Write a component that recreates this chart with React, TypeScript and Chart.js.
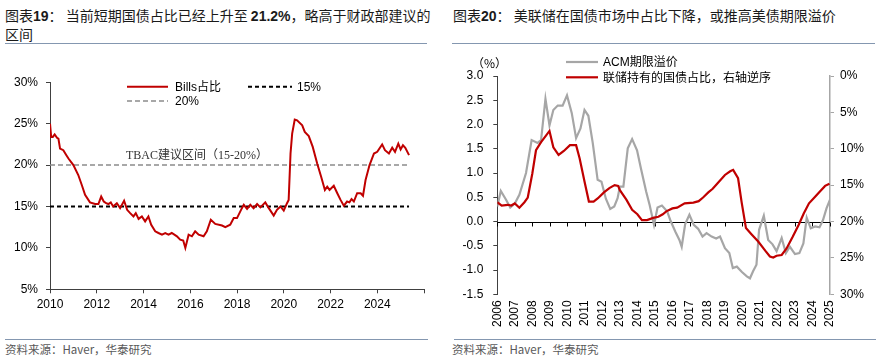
import React, { useEffect, useRef } from "react";
import { Chart, registerables } from "chart.js";
Chart.register(...registerables);

// ---------- Left chart data: T-bill share of marketable Treasuries (%) ----------
const billsYears = [
  2010.0, 2010.05, 2010.12, 2010.2, 2010.3, 2010.36, 2010.43, 2010.57, 2010.7, 2010.79,
  2011.0, 2011.21, 2011.36, 2011.5, 2011.71, 2011.93, 2012.07, 2012.19, 2012.3, 2012.4,
  2012.5, 2012.6, 2012.7, 2012.86, 2013.0, 2013.17, 2013.3, 2013.43, 2013.57, 2013.67,
  2013.79, 2013.93, 2014.07, 2014.21, 2014.33, 2014.5, 2014.64, 2014.79, 2014.93, 2015.07,
  2015.21, 2015.43, 2015.57, 2015.7, 2015.79, 2015.93, 2016.07, 2016.21, 2016.36, 2016.57,
  2016.71, 2016.88, 2017.07, 2017.36, 2017.5, 2017.71, 2017.86, 2018.0, 2018.21, 2018.29,
  2018.43, 2018.57, 2018.71, 2018.86, 2019.0, 2019.21, 2019.36, 2019.57, 2019.71, 2019.86,
  2020.0, 2020.14, 2020.21, 2020.29, 2020.36, 2020.47, 2020.57, 2020.79, 2020.9, 2021.07,
  2021.24, 2021.43, 2021.6, 2021.76, 2021.86, 2021.96, 2022.14, 2022.29, 2022.43, 2022.57,
  2022.71, 2022.81, 2022.9, 2023.0, 2023.14, 2023.29, 2023.39, 2023.5, 2023.67, 2023.86,
  2024.0, 2024.21, 2024.33, 2024.5, 2024.64, 2024.76, 2024.9, 2025.0, 2025.1, 2025.2, 2025.36,
];
const billsShare = [
  25.0, 23.4, 23.4, 23.7, 23.3, 23.2, 22.0, 21.8, 21.2, 20.8,
  20.0, 18.8, 17.6, 16.4, 15.5, 15.3, 15.3, 16.2, 15.6, 15.4,
  15.3, 15.5, 15.0, 15.4, 14.8, 15.7, 14.6, 14.2, 13.8, 14.2,
  13.5, 13.8, 13.2, 13.8, 12.8, 12.0, 11.8, 11.6, 11.8, 11.6,
  11.8, 11.4, 11.0, 10.9, 10.0, 11.6, 11.4, 12.0, 11.6, 11.4,
  12.0, 13.4, 12.9, 12.7, 12.5, 12.8, 13.6, 13.6, 14.8, 15.2,
  14.7, 15.2, 14.8, 15.3, 14.9, 15.5, 14.8, 13.9, 14.6, 15.0,
  14.5, 15.4, 15.8, 21.4, 23.8, 25.5, 25.4, 24.8, 24.0, 23.5,
  22.2, 20.2, 18.6, 17.0, 17.4, 17.0, 17.5, 16.6, 15.8, 15.1,
  15.6, 15.5, 15.9, 15.6, 16.6, 16.6, 16.3, 18.2, 20.0, 21.4,
  21.6, 22.5, 21.8, 21.4, 22.1, 21.6, 22.6, 21.9, 22.4, 22.1, 21.2,
];
const refLineYears = [2010, 2025.36];
const ref20 = [20, 20];
const ref15 = [15, 15];

// ---------- Right chart data ----------
const acmYears = [
  2006.0, 2006.2, 2006.5, 2006.74, 2007.0, 2007.26, 2007.64, 2007.96, 2008.3, 2008.5,
  2008.75, 2008.98, 2009.2, 2009.45, 2009.73, 2009.98, 2010.25, 2010.5, 2010.75, 2010.98,
  2011.2, 2011.45, 2011.73, 2011.95, 2012.2, 2012.45, 2012.68, 2012.87, 2013.0, 2013.2,
  2013.45, 2013.7, 2013.98, 2014.2, 2014.5, 2014.7, 2014.95, 2015.15, 2015.4, 2015.7,
  2015.9, 2016.17, 2016.4, 2016.53, 2016.73, 2016.97, 2017.22, 2017.47, 2017.72, 2017.95,
  2018.24, 2018.5, 2018.72, 2019.0, 2019.25, 2019.45, 2019.68, 2019.97, 2020.25, 2020.43,
  2020.6, 2020.8, 2020.95, 2021.22, 2021.47, 2021.72, 2021.95, 2022.24, 2022.48, 2022.71,
  2023.0, 2023.25, 2023.48, 2023.67, 2023.9, 2024.15, 2024.4, 2024.6, 2024.8, 2025.0,
];
const acmPremium = [
  0.31, 0.63, 0.45, 0.29, 0.37, 0.55, 1.0, 1.68, 1.62, 1.68,
  2.53, 1.98, 2.3, 2.39, 2.39, 2.6, 2.24, 1.72, 1.92, 2.3,
  2.18, 1.62, 0.86, 0.82, 0.47, 0.26, 0.31, 0.48, 0.72, 0.72,
  1.51, 1.7, 1.47, 1.1, 0.62, 0.34, -0.07, 0.29, 0.33, 0.21,
  0.01, -0.21, -0.38, -0.52, -0.05, 0.14, -0.07, -0.15, -0.31, -0.24,
  -0.31, -0.35, -0.31, -0.55, -0.65, -0.96, -0.93, -1.04, -1.13, -1.17,
  -1.03, -0.89, -0.17, 0.12, -0.38, -0.47, -0.61, -0.34, -0.65, -0.52,
  -0.67, -0.65, -0.45, 0.08, -0.14, -0.1, -0.12, 0.03, 0.27, 0.45,
];
const fedYears = [
  2006.0, 2006.25, 2006.6, 2006.8, 2007.0, 2007.26, 2007.55, 2007.74, 2008.0, 2008.21,
  2008.5, 2008.98, 2009.2, 2009.5, 2009.8, 2010.15, 2010.5, 2010.7, 2010.98, 2011.23,
  2011.5, 2011.75, 2012.09, 2012.4, 2012.7, 2012.9, 2013.0, 2013.37, 2013.7, 2014.0,
  2014.26, 2014.55, 2014.9, 2015.2, 2015.45, 2015.65, 2016.0, 2016.27, 2016.7, 2017.2,
  2017.5, 2017.75, 2018.05, 2018.3, 2018.67, 2019.0, 2019.3, 2019.47, 2019.75, 2019.95,
  2020.2, 2020.5, 2020.9, 2021.3, 2021.57, 2021.76, 2021.95, 2022.24, 2022.52, 2022.87,
  2023.2, 2023.5, 2023.8, 2024.15, 2024.45, 2024.72, 2024.97,
];
const fedShare = [
  17.35, 17.8, 17.7, 17.8, 17.5, 18.1, 17.35, 16.7, 13.4, 10.2,
  9.1, 7.55, 9.8, 10.85, 10.3, 9.5, 9.5, 11.3, 14.5, 17.26,
  17.26, 16.8, 16.0, 15.4, 15.0, 15.1, 15.7, 17.0, 18.4, 19.0,
  19.8, 19.8, 19.5, 19.35, 19.0, 18.6, 18.2, 18.1, 17.5, 17.4,
  17.2, 16.7, 16.0, 15.5, 14.5, 13.6, 13.1, 12.9, 14.05, 17.3,
  20.9, 21.7, 22.75, 24.0, 24.8, 24.95, 24.7, 24.6, 23.7, 22.1,
  20.5, 18.9, 17.5, 16.6, 15.8, 15.1, 14.8,
];

const RED = "#C00000";
const GRAY = "#A6A6A6";
const SANS = '"Liberation Sans", Arial, "Noto Sans CJK SC", sans-serif';
const CJK = '"Noto Sans CJK SC", "Liberation Sans", sans-serif';
const SERIF = '"Liberation Serif", "Noto Sans CJK SC", serif';

const pts = (xs: number[], ys: number[]) => xs.map((x, i) => ({ x, y: ys[i] }));

const zeroLinePlugin = {
  id: "zeroLine",
  beforeDatasetsDraw(chart: any) {
    const { ctx, chartArea, scales } = chart;
    const y0 = Math.round(scales.y.getPixelForValue(0)) + 0.5;
    ctx.save();
    ctx.strokeStyle = "#000";
    ctx.lineWidth = 1;
    ctx.beginPath();
    ctx.moveTo(chartArea.left, y0);
    ctx.lineTo(chartArea.right, y0);
    for (let yr = 2006; yr <= 2025; yr++) {
      const x = Math.round(scales.x.getPixelForValue(yr)) + 0.5;
      ctx.moveTo(x, y0);
      ctx.lineTo(x, y0 + 4);
    }
    ctx.stroke();
    ctx.restore();
  },
};

function LeftChart() {
  const ref = useRef<HTMLCanvasElement>(null);
  useEffect(() => {
    const chart = new Chart(ref.current!, {
      type: "line",
      data: {
        datasets: [
          { label: "Bills占比", data: pts(billsYears, billsShare), borderColor: RED, borderWidth: 2, pointRadius: 0, tension: 0 },
          { label: "20%", data: pts(refLineYears, ref20), borderColor: "#8C8C8C", borderWidth: 1.5, borderDash: [5, 3], pointRadius: 0 },
          { label: "15%", data: pts(refLineYears, ref15), borderColor: "#000", borderWidth: 2, borderDash: [4, 3], pointRadius: 0 },
        ],
      },
      options: {
        animation: false,
        responsive: false,
        layout: { padding: { top: 32.3, right: 16, left: 0, bottom: 0 } },
        plugins: { legend: { display: false }, tooltip: { enabled: false } },
        scales: {
          x: {
            type: "linear",
            min: 2010,
            max: 2026,
            afterFit: (s: any) => { s.height = 30.7; },
            ticks: { stepSize: 2, autoSkip: false, maxRotation: 0, padding: 4, color: "#000", font: { family: SANS, size: 12 },
              callback: (v: any) => (v === 2026 ? "" : String(v)) },
            grid: { display: true, drawOnChartArea: false, drawTicks: true, tickLength: 4, color: "#404040" },
            border: { color: "#404040", width: 1 },
          },
          y: {
            min: 5,
            max: 30,
            afterFit: (s: any) => { s.width = 50; },
            ticks: { stepSize: 5, padding: 8, color: "#000", font: { family: SANS, size: 12 }, callback: (v: any) => v + "%" },
            grid: { display: true, drawOnChartArea: false, drawTicks: true, tickLength: 4, color: "#404040" },
            border: { color: "#404040", width: 1 },
          },
        },
      } as any,
    });
    return () => chart.destroy();
  }, []);
  return <canvas ref={ref} width={440} height={270} style={{ position: "absolute", left: 0, top: 50, width: 440, height: 270 }} />;
}

function RightChart() {
  const ref = useRef<HTMLCanvasElement>(null);
  useEffect(() => {
    const chart = new Chart(ref.current!, {
      type: "line",
      data: {
        datasets: [
          { label: "联储持有的国债占比，右轴逆序", data: pts(fedYears, fedShare), yAxisID: "y1", borderColor: RED, borderWidth: 2.2, pointRadius: 0, tension: 0 },
          { label: "ACM期限溢价", data: pts(acmYears, acmPremium), yAxisID: "y", borderColor: GRAY, borderWidth: 2.2, pointRadius: 0, tension: 0 },
        ],
      },
      options: {
        animation: false,
        responsive: false,
        layout: { padding: { top: 26, right: 0, left: 0, bottom: 0 } },
        plugins: { legend: { display: false }, tooltip: { enabled: false } },
        scales: {
          x: {
            type: "linear",
            min: 2006,
            max: 2025,
            afterFit: (s: any) => { s.height = 45.7; },
            ticks: { stepSize: 1, autoSkip: false, minRotation: 90, maxRotation: 90, padding: 6, color: "#000", font: { family: SANS, size: 12 },
              callback: (v: any) => String(v) },
            grid: { display: false, drawTicks: false },
            border: { display: false },
          },
          y: {
            position: "left",
            min: -1.5,
            max: 3.0,
            afterFit: (s: any) => { s.width = 57.3; },
            ticks: { stepSize: 0.5, padding: 10, color: "#000", font: { family: SANS, size: 12 }, callback: (v: any) => Number(v).toFixed(1) },
            grid: { display: true, drawOnChartArea: false, drawTicks: true, tickLength: 4, color: "#404040" },
            border: { color: "#404040", width: 1 },
          },
          y1: {
            position: "right",
            reverse: true,
            min: 0,
            max: 30,
            afterFit: (s: any) => { s.width = 53; },
            ticks: { stepSize: 5, padding: 6, color: "#000", font: { family: SANS, size: 12 }, callback: (v: any) => v + "%" },
            grid: { display: true, drawOnChartArea: false, drawTicks: true, tickLength: 4, color: GRAY },
            border: { color: GRAY, width: 1.5 },
          },
        },
      } as any,
      plugins: [zeroLinePlugin],
    });
    return () => chart.destroy();
  }, []);
  return <canvas ref={ref} width={443} height={290} style={{ position: "absolute", left: 440, top: 50, width: 443, height: 290 }} />;
}

const Txt = (p: { x: number; y: number; children: any; style?: any }) => (
  <div style={{ position: "absolute", left: p.x, top: p.y - 9, height: 18, lineHeight: "18px", whiteSpace: "nowrap", ...p.style }}>{p.children}</div>
);

export default function App() {
  const titleStyle = { fontFamily: CJK, fontSize: 14, color: "#1a1a1a" };
  const legendStyle = { fontFamily: CJK, fontSize: 12, color: "#000" };
  const footStyle = { fontFamily: CJK, fontSize: 11.5, color: "#595959" };
  return (
    <div style={{ position: "absolute", left: 0, top: 0, width: 883, height: 356, overflow: "hidden", background: "#fff" }}>
      <LeftChart />
      <RightChart />
      {/* Titles */}
      <Txt x={5} y={15} style={titleStyle}>
        图表<b style={{ fontFamily: SANS }}>19</b>：&nbsp;当前短期国债占比已经上升至&nbsp;<b style={{ fontFamily: SANS }}>21.2%</b>，略高于财政部建议的
      </Txt>
      <Txt x={5} y={34} style={titleStyle}>区间</Txt>
      <Txt x={453} y={15} style={titleStyle}>
        图表<b style={{ fontFamily: SANS }}>20</b>：&nbsp;美联储在国债市场中占比下降，或推高美债期限溢价
      </Txt>
      {/* Left legend & annotation */}
      <Txt x={175} y={86.7} style={{ ...legendStyle, fontFamily: SANS }}>Bills占比</Txt>
      <Txt x={175} y={101} style={{ ...legendStyle, fontFamily: SANS }}>20%</Txt>
      <Txt x={297} y={86.7} style={{ ...legendStyle, fontFamily: SANS }}>15%</Txt>
      <Txt x={126} y={155} style={{ fontFamily: SERIF, fontSize: 12, color: "#333" }}>TBAC建议区间（15-20%）</Txt>
      {/* Right legend */}
      <Txt x={472} y={63} style={{ fontFamily: CJK, fontSize: 12, color: "#000" }}>（%）</Txt>
      <Txt x={603} y={62} style={{ ...legendStyle, fontFamily: SANS }}>ACM期限溢价</Txt>
      <Txt x={603} y={77.3} style={legendStyle}>联储持有的国债占比，右轴逆序</Txt>
      {/* Footers */}
      <Txt x={5} y={349} style={footStyle}>资料来源：Haver，华泰研究</Txt>
      <Txt x={452} y={349} style={footStyle}>资料来源：Haver，华泰研究</Txt>
      <svg width={883} height={356} style={{ position: "absolute", left: 0, top: 0, pointerEvents: "none" }}>
        <line x1={5} y1={43.5} x2={427} y2={43.5} stroke="#8497B0" strokeWidth={1} />
        <line x1={452} y1={43.5} x2={875} y2={43.5} stroke="#8497B0" strokeWidth={1} />
        <line x1={5} y1={339.5} x2={428} y2={339.5} stroke="#8497B0" strokeWidth={1} />
        <line x1={454} y1={339.5} x2={876} y2={339.5} stroke="#8497B0" strokeWidth={1} />
        <line x1={127} y1={86.7} x2={168} y2={86.7} stroke={RED} strokeWidth={2} />
        <line x1={127} y1={101} x2={168} y2={101} stroke="#8C8C8C" strokeWidth={1.5} strokeDasharray="5 3" />
        <line x1={248} y1={86.7} x2={292} y2={86.7} stroke="#000" strokeWidth={2} strokeDasharray="4 3" />
        <line x1={566} y1={62} x2={598} y2={62} stroke={GRAY} strokeWidth={2.2} />
        <line x1={566} y1={77.3} x2={598} y2={77.3} stroke={RED} strokeWidth={2.2} />
      </svg>
    </div>
  );
}
